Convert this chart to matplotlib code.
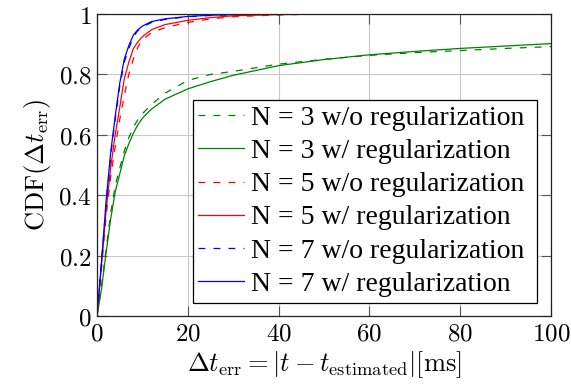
import matplotlib
matplotlib.use("Agg")
import matplotlib.pyplot as plt
from matplotlib.ticker import FuncFormatter

plt.rcParams["mathtext.fontset"] = "cm"

# Error values (ms) at which the CDFs are sampled
t_err = [0, 1, 2, 3, 4, 5, 6, 7, 8, 9, 10, 12, 15, 20, 25, 30, 40, 50, 60, 70, 80, 90, 100]

# CDF values for each configuration
cdf_n3_noreg = [0, 0.10, 0.22, 0.34, 0.43, 0.49, 0.545, 0.59, 0.625, 0.65, 0.67, 0.70, 0.738,
                0.78, 0.80, 0.81, 0.834, 0.85, 0.863, 0.872, 0.879, 0.886, 0.892]
cdf_n3_reg = [0, 0.09, 0.21, 0.32, 0.41, 0.47, 0.53, 0.57, 0.605, 0.633, 0.655, 0.685, 0.718,
              0.752, 0.776, 0.797, 0.829, 0.849, 0.865, 0.876, 0.886, 0.894, 0.902]
cdf_n5_noreg = [0, 0.16, 0.33, 0.46, 0.56, 0.65, 0.73, 0.80, 0.85, 0.89, 0.915, 0.938, 0.955,
                0.972, 0.984, 0.991, 0.997, 1.0, 1.0, 1.0, 1.0, 1.0, 1.0]
cdf_n5_reg = [0, 0.17, 0.35, 0.49, 0.60, 0.69, 0.785, 0.84, 0.885, 0.908, 0.925, 0.948, 0.965,
              0.979, 0.988, 0.994, 0.998, 1.0, 1.0, 1.0, 1.0, 1.0, 1.0]
cdf_n7_noreg = [0, 0.18, 0.37, 0.53, 0.65, 0.76, 0.84, 0.885, 0.925, 0.945, 0.957, 0.972, 0.982,
                0.991, 0.995, 0.998, 1.0, 1.0, 1.0, 1.0, 1.0, 1.0, 1.0]
cdf_n7_reg = [0, 0.18, 0.38, 0.54, 0.66, 0.77, 0.85, 0.895, 0.93, 0.948, 0.96, 0.975, 0.984,
              0.992, 0.996, 0.998, 1.0, 1.0, 1.0, 1.0, 1.0, 1.0, 1.0]

labels = ["N = 3 w/o regularization", "N = 3 w/ regularization",
          "N = 5 w/o regularization", "N = 5 w/ regularization",
          "N = 7 w/o regularization", "N = 7 w/ regularization"]

x_ticks = [0, 20, 40, 60, 80, 100]
y_ticks = [0, 0.2, 0.4, 0.6, 0.8, 1]

fig = plt.figure(figsize=(5.71, 3.90), dpi=100)
ax = fig.add_axes([97 / 571, 1 - 316 / 390, 454 / 571, 302 / 390])

lw = 0.9
dash = (0, (5.5, 6.5))
series = [
    (cdf_n3_noreg, "#008000", dash),
    (cdf_n3_reg, "#008000", "-"),
    (cdf_n5_noreg, "#ff0000", dash),
    (cdf_n5_reg, "#ff0000", "-"),
    (cdf_n7_noreg, "#0000ff", dash),
    (cdf_n7_reg, "#0000ff", "-"),
]
for (vals, color, ls), lab in zip(series, labels):
    # trailing space gives the legend some extra room on its right side
    ax.plot(t_err, vals, color=color, linestyle=ls, linewidth=lw, label=lab + " ")

ax.set_xlim(0, 100)
ax.set_ylim(0, 1)
ax.set_xticks(x_ticks)
ax.set_yticks(y_ticks)

def fmt(v, pos):
    return "$" + ("%g" % v) + "$"

ax.xaxis.set_major_formatter(FuncFormatter(fmt))
ax.yaxis.set_major_formatter(FuncFormatter(fmt))
ax.tick_params(direction="in", length=7, width=0.8, color="#555555",
               top=True, right=True, labelsize=18, pad=4)
ax.grid(True, color="#c8c8c8", linewidth=0.8)
ax.set_axisbelow(True)
for sp in ax.spines.values():
    sp.set_linewidth(0.9)
    sp.set_color("#222222")

ax.set_xlabel(r"$\Delta t_{\mathrm{err}} = |t - t_{\mathrm{estimated}}|[\mathrm{ms}]$",
              fontsize=19, labelpad=3)
ax.set_ylabel(r"$\mathrm{CDF}(\Delta t_{\mathrm{err}})$", fontsize=19, labelpad=4)

leg = ax.legend(loc="lower right", bbox_to_anchor=(0.969, (316 - 302.5) / 302),
                prop={"family": "Liberation Serif", "size": 20},
                frameon=True, fancybox=False, edgecolor="black", framealpha=1,
                handlelength=1.65, handletextpad=0.25, labelspacing=0.28,
                borderpad=0.2, borderaxespad=0)
leg.get_frame().set_linewidth(0.9)

fig.savefig("out.png", dpi=100)
